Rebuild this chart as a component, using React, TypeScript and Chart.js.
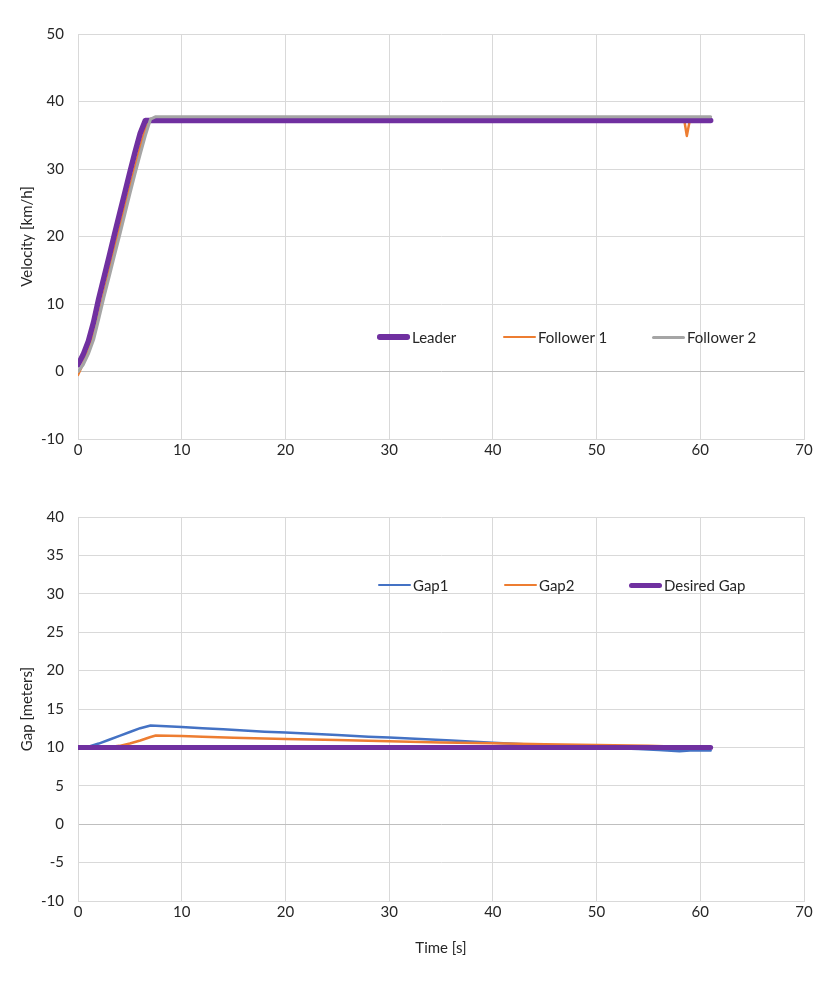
import React, { useEffect, useRef } from 'react';
import Chart from 'chart.js/auto';

const FONT = 'Lato, "Liberation Sans", sans-serif';
const TEXT = '#262626';
const FS = 15;

// --- velocity chart (top) ---
const leaderTime = [0, 0.5, 1, 1.5, 2, 2.5, 3, 3.5, 4, 4.5, 5, 5.5, 6, 6.5, 7, 30, 45, 61];
const leaderSpeed = [1.0, 2.5, 4.5, 7.3, 10.8, 13.9, 17.0, 20.2, 23.3, 26.4, 29.5, 32.5, 35.3, 37.2, 37.2, 37.2, 37.2, 37.2];

const follower1Time = [0, 0.5, 1, 1.5, 2, 2.5, 3, 3.5, 4, 4.5, 5, 5.5, 6, 6.5, 7, 7.5, 23, 25, 39, 58.45, 58.7, 59.0, 61];
const follower1Speed = [-0.5, 1.2, 3.0, 5.3, 8.3, 11.6, 14.8, 18.0, 21.1, 24.2, 27.3, 30.3, 33.3, 36.0, 37.4, 37.3, 37.3, 37.3, 37.3, 37.3, 34.9, 37.3, 37.3];

const follower2Time = [0, 0.5, 1, 1.5, 2, 2.5, 3, 3.5, 4, 4.5, 5, 5.5, 6, 6.5, 7, 7.5, 20, 40, 61];
const follower2Speed = [0.0, 1.0, 2.6, 4.7, 7.8, 11.0, 14.0, 17.1, 20.1, 23.2, 26.3, 29.3, 32.2, 35.0, 37.4, 37.75, 37.75, 37.75, 37.75];

// --- gap chart (bottom) ---
const gap1Time = [0, 1, 2, 3, 4, 5, 6, 7, 8, 10, 12, 14, 16, 18, 20, 22, 25, 28, 30, 33, 36, 40, 43, 46, 50, 52, 54, 56, 58, 59, 61];
const gap1Value = [10, 10.1, 10.5, 11.0, 11.5, 12.0, 12.5, 12.85, 12.8, 12.65, 12.5, 12.35, 12.2, 12.05, 11.95, 11.8, 11.6, 11.4, 11.3, 11.1, 10.9, 10.6, 10.4, 10.2, 10.0, 9.9, 9.8, 9.65, 9.5, 9.6, 9.6];

const gap2Time = [0, 2, 3, 4, 5, 6, 7, 7.5, 10, 12, 15, 18, 20, 25, 30, 35, 40, 45, 50, 55, 58, 61];
const gap2Value = [10, 10, 10.05, 10.2, 10.5, 10.9, 11.35, 11.55, 11.5, 11.4, 11.25, 11.15, 11.1, 10.95, 10.8, 10.65, 10.55, 10.4, 10.3, 10.2, 10.1, 10.0];

const desiredTime = [0, 61];
const desiredValue = [10, 10];

const xTicks = { min: 0, max: 70, step: 10 };

function pts(xs: number[], ys: number[]) {
  return xs.map((x, i) => ({ x, y: ys[i] }));
}

type Series = { label: string; color: string; width: number; data: { x: number; y: number }[]; order: number };

function LineChart(props: {
  top: number;
  height: number;
  series: Series[];
  yMin: number;
  yMax: number;
  yStep: number;
  yTitle: string;
  xTitle?: string;
  padTop: number;
  padBottom: number;
  xAxisHeight: number;
  legendY: number;
  legendLefts: number[];
}) {
  const canvasRef = useRef(null);

  useEffect(() => {
    const ctx = (canvasRef.current as HTMLCanvasElement).getContext('2d');
    const gridColor = (c: any) => (c.tick && c.tick.value === 0 ? '#BFBFBF' : '#D9D9D9');
    const chart = new Chart(ctx!, {
      type: 'line',
      data: {
        datasets: props.series.map((s) => ({
          label: s.label,
          data: s.data,
          borderColor: s.color,
          backgroundColor: s.color,
          borderWidth: s.width,
          pointRadius: 0,
          tension: 0,
          borderCapStyle: 'round',
          borderJoinStyle: 'round',
          order: s.order,
        })),
      },
      options: {
        animation: false,
        responsive: true,
        maintainAspectRatio: false,
        layout: { padding: { top: props.padTop, bottom: props.padBottom, left: 0, right: 26 } },
        plugins: { legend: { display: false }, tooltip: { enabled: false } },
        scales: {
          x: {
            type: 'linear',
            min: xTicks.min,
            max: xTicks.max,
            ticks: { stepSize: xTicks.step, padding: 2, color: TEXT, font: { family: FONT, size: FS } },
            grid: { color: '#D9D9D9', drawTicks: false },
            border: { color: '#D9D9D9' },
            title: {
              display: !!props.xTitle,
              text: props.xTitle || '',
              color: TEXT,
              font: { family: FONT, size: FS },
              padding: { top: 0, bottom: 4 },
            },
            afterFit: (s: any) => {
              s.height = props.xAxisHeight;
            },
          },
          y: {
            min: props.yMin,
            max: props.yMax,
            ticks: { stepSize: props.yStep, padding: 14, color: TEXT, font: { family: FONT, size: FS } },
            grid: { color: gridColor, drawTicks: false },
            border: { color: '#D9D9D9' },
            title: {
              display: true,
              text: props.yTitle,
              color: TEXT,
              font: { family: FONT, size: FS },
              padding: { top: 18, bottom: 0 },
            },
            afterFit: (s: any) => {
              s.width = 78;
            },
          },
        },
      },
    } as any);
    return () => {
      chart.destroy();
    };
  }, []);

  return (
    <div style={{ position: 'absolute', left: 0, top: props.top, width: 830, height: props.height }}>
      <canvas ref={canvasRef}></canvas>
      {props.series.map((s, i) => (
        <div
          key={s.label}
          style={{
            position: 'absolute',
            left: props.legendLefts[i],
            top: props.legendY - 10,
            height: 20,
            display: 'flex',
            alignItems: 'center',
            fontFamily: FONT,
            fontSize: FS,
            color: TEXT,
            whiteSpace: 'nowrap',
          }}
        >
          <div style={{ width: 33, height: s.width, background: s.color, borderRadius: s.width / 2, marginRight: 2 }} />
          <span>{s.label}</span>
        </div>
      ))}
    </div>
  );
}

export default function App() {
  const velocitySeries: Series[] = [
    { label: 'Leader', color: '#7030A0', width: 5.5, data: pts(leaderTime, leaderSpeed), order: 1 },
    { label: 'Follower 1', color: '#ED7D31', width: 2.5, data: pts(follower1Time, follower1Speed), order: 2 },
    { label: 'Follower 2', color: '#A5A5A5', width: 3, data: pts(follower2Time, follower2Speed), order: 0 },
  ];
  const gapSeries: Series[] = [
    { label: 'Gap1', color: '#4472C4', width: 2.5, data: pts(gap1Time, gap1Value), order: 2 },
    { label: 'Gap2', color: '#ED7D31', width: 2.5, data: pts(gap2Time, gap2Value), order: 1 },
    { label: 'Desired Gap', color: '#7030A0', width: 5, data: pts(desiredTime, desiredValue), order: 0 },
  ];
  return (
    <div style={{ position: 'absolute', left: 0, top: 0, width: 830, height: 997, background: '#fff' }}>
      <LineChart
        top={0}
        height={480}
        series={velocitySeries}
        yMin={-10}
        yMax={50}
        yStep={10}
        yTitle="Velocity [km/h]"
        padTop={34}
        padBottom={0}
        xAxisHeight={41}
        legendY={337}
        legendLefts={[377, 503, 652]}
      />
      <LineChart
        top={480}
        height={517}
        series={gapSeries}
        yMin={-10}
        yMax={40}
        yStep={5}
        yTitle="Gap [meters]"
        xTitle="Time [s]"
        padTop={37}
        padBottom={36}
        xAxisHeight={60}
        legendY={105}
        legendLefts={[378, 504, 629]}
      />
    </div>
  );
}
